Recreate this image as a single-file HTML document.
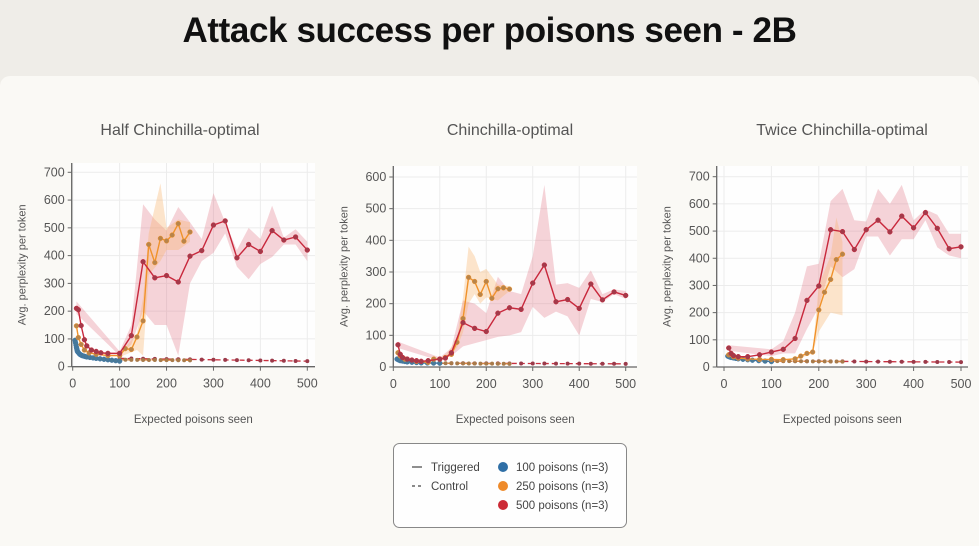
<!DOCTYPE html>
<html><head><meta charset="utf-8"><style>
html,body{margin:0;padding:0;}
body{width:979px;height:538px;background:#efede8;position:relative;overflow:hidden;font-family:"Liberation Sans",sans-serif;}
#title{position:absolute;top:11px;left:0;width:979px;text-align:center;font-weight:bold;font-size:35px;color:#111;letter-spacing:-0.4px;}
#panel{position:absolute;left:0;top:76px;width:979px;height:470px;background:#faf9f5;border-radius:10px 10px 0 0;}
svg{position:absolute;left:0;top:0;}
</style></head><body>
<div id="title">Attack success per poisons seen - 2B</div>
<div id="panel"></div>
<svg id="s" width="979" height="538" xmlns="http://www.w3.org/2000/svg"></svg>
<script>
const NS="http://www.w3.org/2000/svg";
const S=document.getElementById('s');
function el(t,a,txt){const e=document.createElementNS(NS,t);for(const k in a)e.setAttribute(k,a[k]);if(txt!==undefined)e.textContent=txt;S.appendChild(e);return e;}
const charts=[
{title:"Half Chinchilla-optimal",cx:180,ax:71.7,x0:72.7,x500:307.3,y0:366.7,ymaxv:700,ymaxp:172.3,top:163,right:315,ticks:[0,100,200,300,400,500,600,700],
red:[[8,210],[12,205],[18,148],[25,97],[30,75],[40,60],[50,55],[60,50],[75,48],[100,48],[125,112],[150,378],[175,320],[200,328],[225,305],[250,398],[275,418],[300,510],[325,525],[350,392],[375,440],[400,415],[425,490],[450,456],[475,467],[500,420]],
redU:[[8,235],[100,55],[125,150],[150,585],[175,530],[200,490],[225,575],[250,520],[275,460],[300,625],[325,520],[350,420],[375,500],[400,460],[425,580],[450,465],[475,495],[500,450]],
redL:[[8,190],[100,40],[125,80],[150,200],[175,150],[200,150],[225,40],[250,300],[275,380],[300,410],[325,480],[350,360],[375,315],[400,370],[425,395],[450,440],[475,440],[500,380]],
or:[[8,147],[12,105],[18,80],[25,60],[35,50],[50,45],[75,40],[100,40],[112,65],[125,62],[137,107],[150,165],[162,440],[175,375],[187,462],[200,453],[212,474],[225,515],[237,452],[250,485]],
orU:[[100,45],[137,120],[150,250],[162,480],[187,660],[200,500],[225,530],[250,520]],
orL:[[100,35],[137,60],[150,40],[162,330],[187,380],[200,420],[225,420],[250,450]],
bl:[[5,95],[8,70],[10,55],[15,45],[20,40],[30,35],[50,30],[75,25],[100,20]],cr:[30,20],co:25},
{title:"Chinchilla-optimal",cx:510,ax:393.3,x0:393.3,x500:625.7,y0:367,ymaxv:600,ymaxp:177,top:166,right:637,ticks:[0,100,200,300,400,500,600],
red:[[10,70],[15,40],[20,30],[30,25],[40,22],[50,20],[60,18],[75,20],[100,25],[112,28],[125,45],[150,140],[175,122],[200,112],[225,170],[250,187],[275,182],[300,265],[325,322],[350,206],[375,213],[400,185],[425,262],[450,212],[475,237],[500,226]],
redU:[[10,80],[100,30],[125,60],[150,210],[175,200],[200,170],[225,285],[250,240],[275,230],[300,350],[325,575],[350,260],[375,265],[400,250],[425,305],[450,230],[475,245],[500,240]],
redL:[[10,60],[100,20],[125,35],[150,65],[175,75],[200,85],[225,95],[250,100],[275,110],[300,190],[325,155],[350,175],[375,160],[400,100],[425,215],[450,205],[475,230],[500,215]],
or:[[10,45],[15,35],[25,25],[50,18],[75,15],[87,25],[100,25],[112,30],[125,40],[137,78],[150,153],[162,283],[175,270],[187,229],[200,270],[212,217],[225,247],[237,250],[250,246]],
orU:[[112,35],[137,90],[150,220],[162,380],[175,350],[187,300],[200,310],[225,260],[250,255]],
orL:[[112,25],[137,60],[150,110],[162,200],[175,230],[187,200],[200,220],[225,210],[250,240]],
bl:[[8,25],[15,20],[30,16],[60,13],[100,12]],cr:[12,10],co:12},
{title:"Twice Chinchilla-optimal",cx:842,ax:716.7,x0:724,x500:961,y0:367,ymaxv:700,ymaxp:176.7,top:166,right:968,ticks:[0,100,200,300,400,500,600,700],
red:[[10,70],[15,50],[20,42],[30,38],[50,38],[75,45],[100,55],[125,65],[150,105],[175,245],[200,298],[225,505],[250,498],[275,432],[300,505],[325,540],[350,497],[375,555],[400,512],[425,568],[450,510],[475,435],[500,442]],
redU:[[10,80],[100,65],[125,95],[150,200],[175,370],[200,380],[225,610],[250,655],[275,540],[300,535],[325,655],[350,600],[375,670],[400,540],[425,580],[450,560],[475,490],[500,490]],
redL:[[10,60],[100,40],[125,50],[150,50],[175,140],[200,220],[225,370],[250,330],[275,360],[300,480],[325,480],[350,410],[375,470],[400,470],[425,540],[450,440],[475,410],[500,400]],
or:[[10,45],[20,38],[30,33],[50,30],[75,28],[100,28],[125,27],[150,30],[162,40],[175,50],[187,55],[200,210],[212,275],[225,322],[237,395],[250,415]],
orU:[[150,35],[187,60],[200,300],[225,410],[237,550],[250,460]],
orL:[[150,25],[187,50],[200,130],[225,200],[250,190]],
bl:[[8,40],[15,35],[30,30],[60,25],[100,20]],cr:[22,18],co:22}
];
charts.forEach(c=>{
 const X=v=>c.x0+(c.x500-c.x0)*v/500, Y=v=>c.y0-(c.y0-c.ymaxp)*v/c.ymaxv;
 el('rect',{x:c.ax,y:c.top,width:c.right-c.ax,height:c.y0-c.top,fill:'#fefefe'});
 c.ticks.forEach(t=>{el('line',{x1:c.ax,x2:c.right,y1:Y(t),y2:Y(t),stroke:'#ececec','stroke-width':1});
  el('line',{x1:c.ax-4,x2:c.ax,y1:Y(t),y2:Y(t),stroke:'#666'});
  el('text',{x:c.ax-7,y:Y(t)+4,'text-anchor':'end','font-size':12.5,fill:'#555'},t);});
 [0,100,200,300,400,500].forEach(t=>{el('line',{x1:X(t),x2:X(t),y1:c.top,y2:c.y0,stroke:'#ececec'});
  el('line',{x1:X(t),x2:X(t),y1:c.y0,y2:c.y0+4,stroke:'#666'});
  el('text',{x:X(t),y:c.y0+21,'text-anchor':'middle','font-size':12.5,fill:'#555'},t);});
 const band=(U,L,f)=>{let p=U.map(q=>X(q[0])+','+Y(q[1])).concat(L.slice().reverse().map(q=>X(q[0])+','+Y(q[1])));el('polygon',{points:p.join(' '),fill:f});};
 band(c.redU,c.redL,'rgba(222,100,120,0.28)');
 band(c.orU,c.orL,'rgba(250,175,100,0.33)');
 const ctrl=(x1,x2,v1,v2,col,mc)=>{let pts=[];for(let x=x1;x<=x2;x+=12.5)pts.push([x,v1+(v2-v1)*(x-x1)/(x2-x1)]);
  el('polyline',{points:pts.map(q=>X(q[0])+','+Y(q[1])).join(' '),fill:'none',stroke:col,'stroke-width':1.3,'stroke-dasharray':'5,3'});
  pts.forEach((q,i)=>{if(i%2==0||x2<300)el('circle',{cx:X(q[0]),cy:Y(q[1]),r:2,fill:mc});});};
 ctrl(100,500,c.cr[0],c.cr[1],'#c8303f','#9b3a4a');
 ctrl(100,250,c.co,c.co-2,'#e08a3a','#a87a4a');
 const line=(d,col,mc,r)=>{el('polyline',{points:d.map(q=>X(q[0])+','+Y(q[1])).join(' '),fill:'none',stroke:col,'stroke-width':1.4});
  d.forEach(q=>el('circle',{cx:X(q[0]),cy:Y(q[1]),r:r,fill:mc,stroke:col,'stroke-width':0.5}));};
 let bd=[];for(let i=0;i<c.bl.length-1;i++){const a=c.bl[i],b=c.bl[i+1];for(let k=0;k<3;k++){const t=k/3;bd.push([a[0]+(b[0]-a[0])*t,a[1]+(b[1]-a[1])*t]);}}bd.push(c.bl[c.bl.length-1]);
 line(bd,'#3b75a8','#4a7a98',2.4);
 line(c.or,'#f0922a','#b8844a',2.4);
 line(c.red,'#c8283c','#a33a4a',2.4);
 el('line',{x1:c.ax,x2:c.ax,y1:c.top,y2:c.y0,stroke:'#666','stroke-width':1.3});
 el('line',{x1:c.ax,x2:c.right,y1:c.y0,y2:c.y0,stroke:'#666','stroke-width':1.3});
 el('text',{x:c.cx,y:135,'text-anchor':'middle','font-size':16,fill:'#555'},c.title);
 el('text',{x:(c.ax+c.right)/2,y:423,'text-anchor':'middle','font-size':11.5,fill:'#555'},'Expected poisons seen');
 const ly=(c.top+c.y0)/2, lx=c.ax-46;
 el('text',{x:lx,y:ly,'text-anchor':'middle','font-size':11,fill:'#555',transform:`rotate(-90 ${lx} ${ly})`},'Avg. perplexity per token');
});
el('rect',{x:393.5,y:443.5,width:233,height:84,rx:6,fill:'#fefefe',stroke:'#888','stroke-width':1});
el('line',{x1:412,x2:422,y1:467,y2:467,stroke:'#444','stroke-width':1.2});
el('line',{x1:412,x2:422,y1:486,y2:486,stroke:'#444','stroke-width':1.2,'stroke-dasharray':'3,3'});
el('text',{x:431,y:471,'font-size':11.5,fill:'#444'},'Triggered');
el('text',{x:431,y:490,'font-size':11.5,fill:'#444'},'Control');
[['#2f6fa6',467,'100 poisons (n=3)'],['#ee8a2a',486,'250 poisons (n=3)'],['#cc2a35',505,'500 poisons (n=3)']].forEach(a=>{
 el('circle',{cx:503,cy:a[1],r:5,fill:a[0]});
 el('text',{x:516,y:a[1]+4,'font-size':11.5,fill:'#444'},a[2]);});
</script>
</body></html>
